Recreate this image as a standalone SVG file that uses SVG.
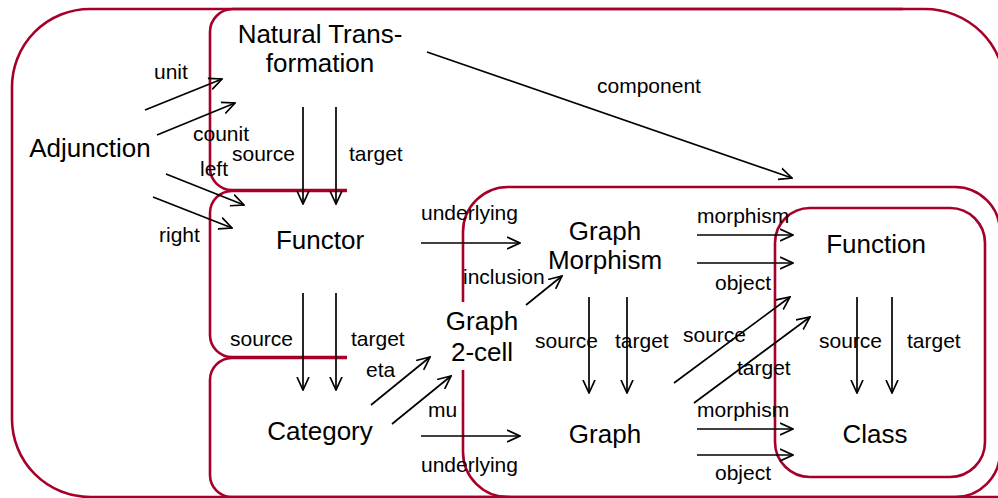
<svg xmlns="http://www.w3.org/2000/svg" width="998" height="498" viewBox="0 0 998 498">
<defs>
<style>
.box{fill:none;stroke:#A6002A;stroke-width:2.6}
.edge{fill:none;stroke:#000;stroke-width:1.7;marker-end:url(#ah)}
.node{font-family:"Liberation Sans",Arial,sans-serif;font-size:26px;fill:#000;text-anchor:middle}
.lbl{font-family:"Liberation Sans",Arial,sans-serif;font-size:21px;fill:#000}
</style>
<marker id="ah" viewBox="0 0 14 14" refX="13" refY="7" markerWidth="14" markerHeight="14" markerUnits="userSpaceOnUse" orient="auto">
<path d="M0,1 L13,7 L0,13" fill="none" stroke="#000" stroke-width="1.7"/>
</marker>
</defs>
<rect width="998" height="498" fill="#fff"/>

<g id="containers">
<path class="box" d="M12,88 A78,78 0 0 1 90,9 L925,9 A80,80 0 0 1 1005,89 L1005,497 L90,497 A78,78 0 0 1 12,419 Z"/>
<path class="box" d="M903,9 L233,9 A23,23 0 0 0 210,32 L210,168 A22,22 0 0 0 232,190 L347,190"/>
<path class="box" d="M347,191 L232,191 A22,22 0 0 0 210,213 L210,335 A22,22 0 0 0 232,357 L347,357"/>
<path class="box" d="M347,358 L232,358 A22,22 0 0 0 210,380 L210,475 A22,22 0 0 0 232,497 L510,497"/>
<rect class="box" x="463" y="187" width="537" height="310" rx="45" ry="45"/>
<rect class="box" x="775" y="208" width="210" height="269" rx="35" ry="35"/>
</g>

<g id="connectors">
<line class="edge" x1="145" y1="110" x2="222" y2="79"/>
<line class="edge" x1="157" y1="135" x2="235" y2="103"/>
<line class="edge" x1="166" y1="174" x2="244" y2="205"/>
<line class="edge" x1="153" y1="197" x2="232" y2="228"/>
<line class="edge" x1="303" y1="107" x2="303" y2="204"/>
<line class="edge" x1="336" y1="107" x2="336" y2="204"/>
<line class="edge" x1="427" y1="52" x2="792" y2="178"/>
<line class="edge" x1="421" y1="243" x2="520" y2="243"/>
<line class="edge" x1="303" y1="293" x2="303" y2="390"/>
<line class="edge" x1="336" y1="293" x2="336" y2="390"/>
<line class="edge" x1="371" y1="405" x2="430" y2="357"/>
<line class="edge" x1="392" y1="424" x2="451" y2="376"/>
<line class="edge" x1="421" y1="436" x2="520" y2="436"/>
<line class="edge" x1="526" y1="305" x2="562" y2="276"/>
<line class="edge" x1="697" y1="235" x2="793" y2="235"/>
<line class="edge" x1="697" y1="263" x2="793" y2="263"/>
<line class="edge" x1="589" y1="297" x2="589" y2="393"/>
<line class="edge" x1="627" y1="297" x2="627" y2="393"/>
<line class="edge" x1="674" y1="383" x2="790" y2="297"/>
<line class="edge" x1="694" y1="403" x2="810" y2="317"/>
<line class="edge" x1="697" y1="429" x2="793" y2="429"/>
<line class="edge" x1="697" y1="455" x2="793" y2="455"/>
<line class="edge" x1="857" y1="297" x2="857" y2="393"/>
<line class="edge" x1="892" y1="297" x2="892" y2="393"/>
</g>

<g id="edge-labels">
<text class="lbl" x="154" y="79">unit</text>
<text class="lbl" x="193" y="141">counit</text>
<text class="lbl" x="200" y="176">left</text>
<text class="lbl" x="159" y="242">right</text>
<text class="lbl" x="232" y="161">source</text>
<text class="lbl" x="349" y="161">target</text>
<text class="lbl" x="597" y="93">component</text>
<text class="lbl" x="421" y="220">underlying</text>
<text class="lbl" x="463" y="284">inclusion</text>
<text class="lbl" x="697" y="223">morphism</text>
<text class="lbl" x="715" y="290">object</text>
<text class="lbl" x="230" y="346">source</text>
<text class="lbl" x="351" y="346">target</text>
<text class="lbl" x="366" y="377">eta</text>
<text class="lbl" x="428" y="417">mu</text>
<text class="lbl" x="421" y="472">underlying</text>
<text class="lbl" x="535" y="348">source</text>
<text class="lbl" x="615" y="348">target</text>
<text class="lbl" x="683" y="342">source</text>
<text class="lbl" x="737" y="375">target</text>
<text class="lbl" x="697" y="417">morphism</text>
<text class="lbl" x="715" y="480">object</text>
<text class="lbl" x="819" y="348">source</text>
<text class="lbl" x="907" y="348">target</text>
</g>

<g id="node-adjunction"><text class="node" x="90" y="157">Adjunction</text></g>
<g id="node-natural-transformation"><text class="node" x="320" y="43">Natural Trans-</text><text class="node" x="320" y="72">formation</text></g>
<g id="node-functor"><text class="node" x="320" y="249">Functor</text></g>
<g id="node-category"><text class="node" x="320" y="440">Category</text></g>
<g id="node-graph-2-cell"><rect x="440" y="302" width="84" height="68" fill="#fff"/><text class="node" x="482" y="330">Graph</text><text class="node" x="482" y="361">2-cell</text></g>
<g id="node-graph-morphism"><text class="node" x="605" y="240">Graph</text><text class="node" x="605" y="269">Morphism</text></g>
<g id="node-graph"><text class="node" x="605" y="443">Graph</text></g>
<g id="node-function"><text class="node" x="876" y="253">Function</text></g>
<g id="node-class"><text class="node" x="875" y="443">Class</text></g>
</svg>
